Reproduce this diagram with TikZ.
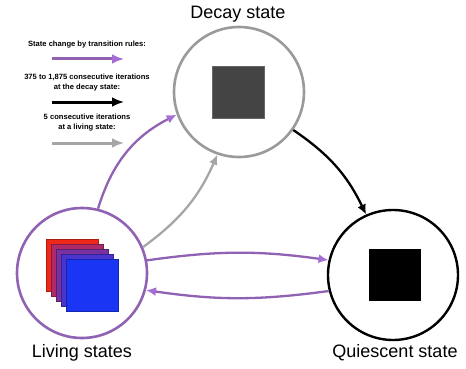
\documentclass[tikz,border=0pt]{standalone}
\usepackage{fontspec}
\setmainfont{Liberation Sans}
\usetikzlibrary{arrows.meta}
\definecolor{purp}{HTML}{9062B4}
\definecolor{purphead}{HTML}{A46ED4}
\definecolor{grayc}{HTML}{9A9A9A}
\definecolor{graya}{HTML}{A6A6A6}
\definecolor{decaysq}{HTML}{444444}
\definecolor{sqa}{HTML}{F0281A}
\definecolor{sqb}{HTML}{B02A6A}
\definecolor{sqc}{HTML}{7A309E}
\definecolor{sqd}{HTML}{4A34CC}
\definecolor{sqe}{HTML}{1A36F4}
\begin{document}
\begin{tikzpicture}[x=1pt,y=-1pt,
  statecirc/.style={circle, minimum size=130pt, inner sep=0pt, line width=2.6pt, fill=white},
  sq/.style={minimum size=52pt, inner sep=0pt},
  lbl/.style={font=\fontsize{18}{21}\selectfont},
  leg/.style={font=\bfseries\fontsize{7.6}{9.4}\selectfont, align=center},
  conn/.style={line width=2.3pt},
  purparrow/.style={conn, draw=purp, -{Latex[length=10pt,width=9pt,color=purphead]}},
  blackarrow/.style={conn, draw=black, -{Latex[length=10pt,width=9pt,color=black]}},
  grayarrow/.style={conn, draw=graya, -{Latex[length=10pt,width=9pt,color=graya]}},
  legarrow/.style={line width=3pt},
]
\useasboundingbox (0,0) rectangle (466,369);

% state circles
\node[statecirc, draw=grayc] (decay) at (239,92) {};
\node[statecirc, draw=purp] (living) at (82,273) {};
\node[statecirc, draw=black, line width=2.4pt] (quiescent) at (393,275) {};

% squares
\node[sq, fill=decaysq, draw=black!60, line width=0.4pt] (dsq) at (238,92) {};
\node[sq, fill=black] (qsq) at (395,275) {};
\node[sq, fill=sqa, draw=sqa!70!black, line width=0.4pt] (l1) at (72.5,265) {};
\node[sq, fill=sqb, draw=sqb!70!black, line width=0.4pt] (l2) at (77.5,270) {};
\node[sq, fill=sqc, draw=sqc!70!black, line width=0.4pt] (l3) at (82.5,275) {};
\node[sq, fill=sqd, draw=sqd!70!black, line width=0.4pt] (l4) at (87.5,280) {};
\node[sq, fill=sqe, draw=sqe!70!black, line width=0.4pt] (l5) at (92.5,285) {};

% labels
\node[lbl] (tdecay) at (238,14) {Decay state};
\node[lbl] (tliving) at (82,353) {Living states};
\node[lbl] (tquies) at (395,353) {Quiescent state};

% connectors
\draw[purparrow] (living.76) to[bend left=23] (decay.200);
\draw[grayarrow] (living.23) to[bend right=15] (decay.251);
\draw[blackarrow] (decay.-35) to[bend left=15] (quiescent.114);
\draw[purparrow] (living.11) to[bend left=8] (quiescent.167);
\draw[purparrow] (quiescent.194) to[bend left=8] (living.-15);

% legend
\node[leg] (leg1) at (87,45) {State change by transition rules:};
\coordinate (p1a) at (52,59); \coordinate (p1b) at (124,59);
\draw[legarrow, draw=purp, -{Latex[length=12pt,width=10pt,color=purphead]}] (p1a) -- (p1b);
\node[leg] (leg2) at (87,82.5) {375 to 1,875 consecutive iterations\\at the decay state:};
\coordinate (p2a) at (52,102); \coordinate (p2b) at (124,102);
\draw[legarrow, draw=black, -{Latex[length=12pt,width=10pt,color=black]}] (p2a) -- (p2b);
\node[leg] (leg3) at (87,122.5) {5 consecutive iterations\\at a living state:};
\coordinate (p3a) at (52,143); \coordinate (p3b) at (124,143);
\draw[legarrow, draw=graya, -{Latex[length=12pt,width=10pt,color=graya]}] (p3a) -- (p3b);
\end{tikzpicture}
\end{document}
